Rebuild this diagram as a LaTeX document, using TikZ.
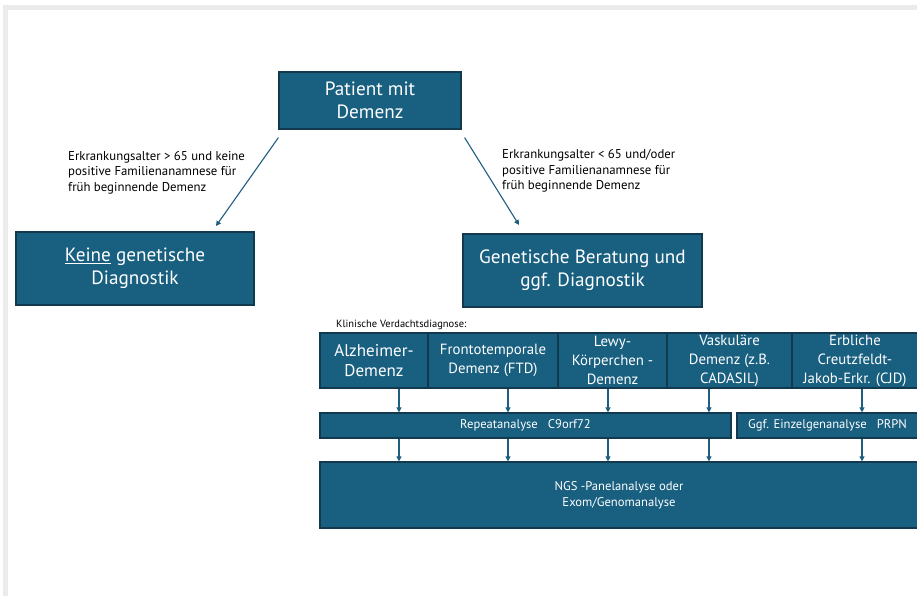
\documentclass[tikz,border=0pt]{standalone}
\usepackage{fontspec}
\setmainfont{PT Sans}
\usetikzlibrary{arrows.meta,calc}
\definecolor{boxfill}{HTML}{185F80}
\definecolor{boxline}{HTML}{12394D}
\definecolor{arrcol}{HTML}{1E5F80}
\begin{document}
\begin{tikzpicture}[x=1pt,y=-1pt,
  box/.style={draw=boxline, fill=boxfill, line width=1.2pt, text=white, align=center, inner sep=0pt},
  big/.style={font=\fontsize{19.2}{23}\selectfont},
  mid/.style={font=\fontsize{17}{20}\selectfont},
  smallrow/.style={font=\fontsize{14.8}{19}\selectfont},
  small/.style={font=\fontsize{12.6}{16}\selectfont},
  lbl/.style={align=left, inner sep=0pt, anchor=west, font=\fontsize{12.8}{15.5}\selectfont},
  arr/.style={draw=arrcol, line width=1.1pt, -{Triangle[length=5pt,width=5pt]}}
]
\useasboundingbox (0,0) rectangle (917,596);
\fill[white] (0,0) rectangle (917,596);
% frame
\draw[black!8, line width=5pt] (5.5,596) -- (5.5,7.5) -- (917,7.5);

% top-level nodes
\node[box, big, minimum width=182pt, minimum height=57pt] (pat) at (370,100.5) {Patient mit\\Demenz};
\node[box, big, minimum width=238pt, minimum height=73pt] (keine) at (135,268.5) {\underline{Keine} genetische\\Diagnostik};
\node[box, big, minimum width=239pt, minimum height=73pt] (gen) at (582.5,270.5) {Genetische Beratung und\\ggf. Diagnostik};

% labels
\node[lbl] (lab1) at (68,172.5) {Erkrankungsalter > 65 und keine\\positive Familienanamnese für\\früh beginnende Demenz};
\node[lbl] (lab2) at (502,171) {Erkrankungsalter < 65 und/oder\\positive Familienanamnese für\\früh beginnende Demenz};

% diagonal arrows
\coordinate (t1) at (216,226);
\coordinate (t2) at (519,225);
\draw[arr] ([yshift=-8pt]pat.south west) -- (t1);
\draw[arr] ([xshift=3pt,yshift=-8pt]pat.south east) -- (t2);

% clinical diagnosis row
\node[anchor=west, inner sep=0pt, font=\fontsize{10.5}{12}\selectfont] (klin) at (336,325) {Klinische Verdachtsdiagnose:};
\node[box, mid, minimum width=108pt, minimum height=55pt] (alz) at (374,360.5) {Alzheimer-\\Demenz};
\node[box, smallrow, minimum width=130pt, minimum height=55pt] (ftd) at (493,360.5) {Frontotemporale\\Demenz (FTD)};
\node[box, smallrow, minimum width=109pt, minimum height=55pt] (lewy) at (612.5,360.5) {Lewy-\\Körperchen -\\Demenz};
\node[box, smallrow, minimum width=125pt, minimum height=55pt] (vask) at (729.5,360.5) {Vaskuläre\\Demenz (z.B.\\CADASIL)};
\node[box, smallrow, minimum width=126pt, minimum height=55pt] (cjd) at (855,360.5) {Erbliche\\Creutzfeldt-\\Jakob-Erkr. (CJD)};

% analyses
\node[box, small, minimum width=411pt, minimum height=25pt] (rep) at (525.5,425.5) {Repeatanalyse\ \ \ C9orf72};
\node[box, small, minimum width=181pt, minimum height=25pt] (ggf) at (827.5,425.5) {Ggf. Einzelgenanalyse\ \ \ PRPN};
\node[box, small, minimum width=598pt, minimum height=66pt] (ngs) at (619,495) {NGS -Panelanalyse oder\\Exom/Genomanalyse};

% vertical arrows
\coordinate (a1) at ([xshift=25pt]alz.south);
\coordinate (a2) at ([xshift=15pt]ftd.south);
\coordinate (a3) at ([xshift=-4.5pt]lewy.south);
\coordinate (a4) at ([xshift=-20.5pt]vask.south);
\coordinate (a5) at ([xshift=7pt]cjd.south);
\foreach \a in {a1,a2,a3,a4} {
  \draw[arr] (\a) -- (\a |- rep.north);
  \draw[arr] (\a |- rep.south) -- (\a |- ngs.north);
}
\draw[arr] (a5) -- (a5 |- ggf.north);
\draw[arr] (a5 |- ggf.south) -- (a5 |- ngs.north);
\end{tikzpicture}
\end{document}
